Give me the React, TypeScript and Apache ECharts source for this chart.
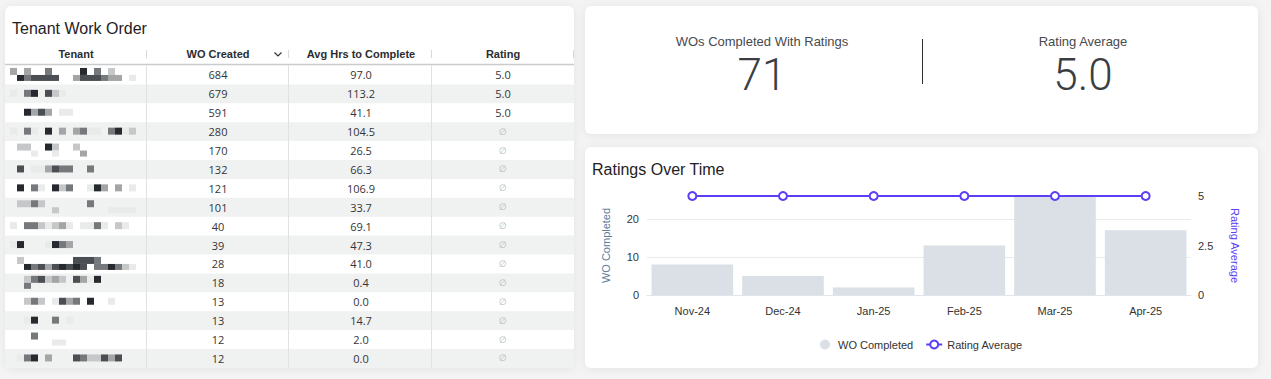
import React, { useEffect, useRef } from 'react';
import * as echarts from 'echarts';

// ---- Chart data ----
const months = ['Nov-24', 'Dec-24', 'Jan-25', 'Feb-25', 'Mar-25', 'Apr-25'];
const woCompleted = [8, 5, 2, 13, 26, 17];
const ratingAverage = [5, 5, 5, 5, 5, 5];
const leftTicks = { min: 0, max: 26, interval: 10 };
const rightTicks = { min: 0, max: 5, interval: 2.5 };

// ---- KPI data ----
const kpiLabels = ['WOs Completed With Ratings', 'Rating Average'];
const kpiValues = ['71', '5.0'];

// ---- Table data ----
const tableTitle = 'Tenant Work Order';
const tableHeaders = ['Tenant', 'WO Created', 'Avg Hrs to Complete', 'Rating'];
const woCreated = [684, 679, 591, 280, 170, 132, 121, 101, 40, 39, 28, 18, 13, 13, 12, 12];
const avgHrs = ['97.0', '113.2', '41.1', '104.5', '26.5', '66.3', '106.9', '33.7', '69.1', '47.3', '41.0', '0.4', '0.0', '14.7', '2.0', '0.0'];
const ratings: (string | null)[] = ['5.0', '5.0', '5.0', null, null, null, null, null, null, null, null, null, null, null, null, null];
// redacted (pixelated) tenant names: "top|bottom" mosaic rows
const tenantMosaic = [
  'c.c..d....f.d.b|.fdeeee..ceeedcc.a',
  'a.df.eba',
  '..fcec.aa',
  'a.da.f.c.cdaa.dfab',
  '.bb..fb..b|...a..a...c',
  '.e.aacedd..d',
  '.f.da.fbd..afc.c.a',
  '.bbdb......d|......b.......aaaa',
  'a.ddbabca.aada.ba',
  'af...afdc',
  '.b.......eeed|..fdecefefe.ddfdba',
  '..bdebcb.ecaf|..d',
  '..bdb.aecd.f..a',
  '..af..d.a',
  '...d|......aa',
  '.adf.c...edbbece',
];
const shades: Record<string, string> = {
  a: '#e9eaea', b: '#c6c7c8', c: '#a3a5a7', d: '#76797c', e: '#4b4f54', f: '#262a2f',
};

const SANS = '"Liberation Sans", Arial, Helvetica, sans-serif';
const BODY = '"Open Sans", "Liberation Sans", sans-serif';

function buildGraphics() {
  const els: any[] = [];
  const card = (x: number, y: number, w: number, h: number) => ({
    type: 'rect', z: 0, silent: true,
    shape: { x, y, width: w, height: h, r: 6 },
    style: { fill: '#ffffff', shadowBlur: 8, shadowColor: 'rgba(0,0,0,0.07)', shadowOffsetY: 1 },
  });
  els.push(card(5, 6, 569, 362));
  els.push(card(585, 6, 673, 128));
  els.push(card(585, 147, 673, 221));

  // table
  els.push({ type: 'text', z: 5, x: 12, y: 28, style: { text: tableTitle, fill: '#1f2124', fontFamily: SANS, fontSize: 16, textAlign: 'left', textVerticalAlign: 'middle' } });
  const colCenters = [76, 218, 361, 503];
  const colEdges = [146.5, 288.5, 431.5, 573.5];
  tableHeaders.forEach((h, i) => {
    els.push({ type: 'text', z: 5, x: colCenters[i], y: 54, style: { text: h, fill: '#2b2d30', fontFamily: SANS, fontWeight: 'bold', fontSize: 11, textAlign: 'center', textVerticalAlign: 'middle' } });
  });
  colEdges.forEach((x) => {
    els.push({ type: 'line', z: 5, shape: { x1: x, y1: 50, x2: x, y2: 58 }, style: { stroke: '#d6d8da', lineWidth: 1 } });
  });
  els.push({ type: 'polyline', z: 5, shape: { points: [[274.5, 52.5], [278, 56], [281.5, 52.5]] }, style: { stroke: '#333', lineWidth: 1.2, fill: null } });
  const rowTop = 65.5;
  const rowH = 18.9;
  woCreated.forEach((v, i) => {
    const top = rowTop + i * rowH;
    const c = top + rowH / 2;
    if (i % 2 === 1) {
      els.push({ type: 'rect', z: 1, shape: { x: 5, y: top, width: 569, height: rowH }, style: { fill: '#f0f1f1' } });
    }
    els.push({ type: 'text', z: 5, x: colCenters[1], y: c, style: { text: String(v), fill: '#333538', fontFamily: BODY, fontSize: 11, textAlign: 'center', textVerticalAlign: 'middle' } });
    els.push({ type: 'text', z: 5, x: colCenters[2], y: c, style: { text: avgHrs[i], fill: '#333538', fontFamily: BODY, fontSize: 11, textAlign: 'center', textVerticalAlign: 'middle' } });
    const r = ratings[i];
    els.push({ type: 'text', z: 5, x: colCenters[3], y: c, style: { text: r === null ? '∅' : r, fill: r === null ? '#b4b6b8' : '#333538', fontFamily: r === null ? '"DejaVu Sans", sans-serif' : BODY, fontSize: r === null ? 9 : 11, textAlign: 'center', textVerticalAlign: 'middle' } });
    // mosaic
    const parts = tenantMosaic[i].split('|');
    parts.forEach((line, li) => {
      let y: number; let h: number;
      if (parts.length === 1) { y = c - 4; h = 7; } else if (li === 0) { y = c - 7; h = 7; } else { y = c; h = 6; }
      for (let k = 0; k < line.length; k++) {
        const ch = line[k];
        if (shades[ch]) {
          els.push({ type: 'rect', z: 3, silent: true, shape: { x: 10 + k * 7, y, width: 7, height: h }, style: { fill: shades[ch] } });
        }
      }
    });
  });
  els.push({ type: 'line', z: 4, shape: { x1: 5, y1: 64.5, x2: 574, y2: 64.5 }, style: { stroke: '#c9cbcd', lineWidth: 1.5 } });
  colEdges.slice(0, 3).forEach((x) => {
    els.push({ type: 'line', z: 4, shape: { x1: x, y1: 65, x2: x, y2: 368 }, style: { stroke: '#e0e1e2', lineWidth: 1 } });
  });

  // KPI
  const kpiX = [762, 1083];
  kpiLabels.forEach((l, i) => {
    els.push({ type: 'text', z: 5, x: kpiX[i], y: 41, style: { text: l, fill: '#474a4e', fontFamily: SANS, fontSize: 13, textAlign: 'center', textVerticalAlign: 'middle' } });
    els.push({ type: 'text', z: 5, x: kpiX[i], y: 75, style: { text: kpiValues[i], fill: '#3a3e43', fontFamily: '"Roboto", ' + SANS, fontWeight: 300, fontSize: 44, textAlign: 'center', textVerticalAlign: 'middle' } });
  });
  els.push({ type: 'line', z: 5, shape: { x1: 922.5, y1: 39, x2: 922.5, y2: 84 }, style: { stroke: '#2a2d31', lineWidth: 1 } });

  // chart title
  els.push({ type: 'text', z: 5, x: 592, y: 169, style: { text: 'Ratings Over Time', fill: '#1f2124', fontFamily: SANS, fontSize: 16, textAlign: 'left', textVerticalAlign: 'middle' } });
  return els;
}

const PURPLE = '#5b3ff5';

export default function App() {
  const ref = useRef<HTMLDivElement>(null);
  useEffect(() => {
    document.body.style.margin = '0';
    const chart = echarts.init(ref.current!, null, { renderer: 'svg', width: 1271, height: 379 });
    chart.setOption({
      animation: false,
      backgroundColor: '#f4f4f4',
      textStyle: { fontFamily: SANS },
      graphic: { elements: buildGraphics() },
      grid: { left: 647, right: 80, top: 196, bottom: 84, containLabel: false },
      legend: {
        left: 815, top: 334, padding: 5, itemWidth: 16, itemHeight: 10, itemGap: 12,
        textStyle: { color: '#333', fontSize: 11, fontFamily: SANS },
        data: [
          { name: 'WO Completed', icon: 'circle' },
          { name: 'Rating Average' },
        ],
      },
      xAxis: {
        type: 'category', data: months,
        axisTick: { show: false },
        axisLine: { lineStyle: { color: '#e1e6ee', width: 1 } },
        axisLabel: { color: '#333', fontSize: 11, margin: 10, fontFamily: SANS },
      },
      yAxis: [
        {
          type: 'value', ...leftTicks,
          name: 'WO Completed', nameLocation: 'middle', nameGap: 36, nameRotate: 90,
          nameTextStyle: { color: '#5d7c98', fontSize: 11, fontFamily: SANS },
          axisLabel: { color: '#333', fontSize: 11, margin: 8, showMaxLabel: false, fontFamily: SANS },
          splitLine: { show: true, showMaxLine: false, lineStyle: { color: '#e8eaed' } },
          axisLine: { show: false }, axisTick: { show: false },
        },
        {
          type: 'value', ...rightTicks, position: 'right',
          name: 'Rating Average', nameLocation: 'middle', nameGap: 38, nameRotate: -90,
          nameTextStyle: { color: PURPLE, fontSize: 11, fontFamily: SANS },
          axisLabel: { color: '#333', fontSize: 11, margin: 7, fontFamily: SANS },
          splitLine: { show: false },
          axisLine: { show: false }, axisTick: { show: false },
        },
      ],
      series: [
        {
          name: 'WO Completed', type: 'bar', data: woCompleted, yAxisIndex: 0,
          barCategoryGap: '10%', itemStyle: { color: '#dae0e6' },
        },
        {
          name: 'Rating Average', type: 'line', data: ratingAverage, yAxisIndex: 1,
          symbol: 'circle', symbolSize: 8,
          lineStyle: { color: PURPLE, width: 2 },
          itemStyle: { color: '#ffffff', borderColor: PURPLE, borderWidth: 2 },
        },
      ],
    });
    return () => chart.dispose();
  }, []);
  return <div ref={ref} style={{ position: 'absolute', left: 0, top: 0, width: 1271, height: 379 }} />;
}
